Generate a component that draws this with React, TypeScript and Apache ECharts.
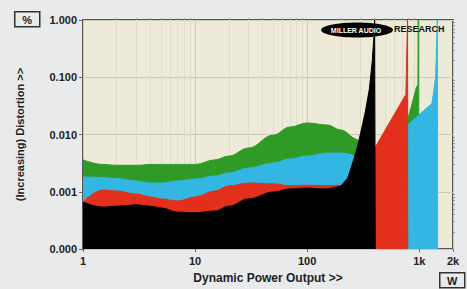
import React, { useEffect, useRef } from "react";
import * as echarts from "echarts";

// Power (W) sample points for the low-power part of the curves
const basePower = [1, 1.5, 2, 3, 4, 5, 7, 10, 15, 20, 30, 50, 70, 100, 150, 200, 250];

// Distortion (%) per trace at basePower
const greenBase = [0.0036, 0.003, 0.0029, 0.0029, 0.003, 0.003, 0.003, 0.003, 0.0036, 0.0042, 0.0058, 0.0098, 0.0135, 0.0159, 0.0147, 0.012, 0.009];
const blueBase = [0.00181, 0.00178, 0.0017, 0.00154, 0.00142, 0.00142, 0.00154, 0.00167, 0.00188, 0.00213, 0.0026, 0.00318, 0.00373, 0.0042, 0.00475, 0.00475, 0.0044];
const redBase = [0.00066, 0.00107, 0.00103, 0.00091, 0.00081, 0.00075, 0.00069, 0.00081, 0.00103, 0.00126, 0.00142, 0.00137, 0.00128, 0.0013, 0.00128, 0.0013, 0.0013];
const blackBase = [0.00066, 0.00054, 0.00056, 0.00059, 0.00056, 0.00052, 0.00044, 0.00043, 0.00046, 0.00056, 0.00075, 0.00099, 0.00112, 0.00116, 0.00112, 0.00125];

// High-power tails (clipping spikes), overlapping the end of each body
const greenTailW = [200, 250, 300, 350, 400, 787, 940, 975, 980, 985];
const greenTail = [0.012, 0.009, 0.0075, 0.006, 0.0045, 0.0178, 0.065, 0.075, 1.0, 0.0001];
const blueTailW = [200, 250, 300, 400, 787, 1300, 1400, 1450, 1460];
const blueTail = [0.00475, 0.0044, 0.004, 0.004, 0.0147, 0.035, 0.1, 1.0, 0.0001];
const redTailW = [200, 250, 300, 350, 405, 760, 785, 790];
const redTail = [0.0013, 0.0013, 0.002, 0.004, 0.006, 0.05, 1.0, 0.0001];
const blackTailW = [150, 200, 230, 260, 280, 300, 330, 360, 380, 395, 400, 405];
const blackTail = [0.00112, 0.00125, 0.00174, 0.0036, 0.006, 0.0106, 0.0247, 0.065, 0.185, 0.55, 1.0, 0.0001];

// Axis ticks
const xMajorTicks = [1, 10, 100, 1000, 2000];
const xMinorTicks = [2, 3, 4, 5, 6, 7, 8, 9, 20, 30, 40, 50, 60, 70, 80, 90, 200, 300, 400, 500, 600, 700, 800, 900];
const yMajorTicks = [0.0001, 0.001, 0.01, 0.1, 1];
const yMinorTicks = [
  0.0002, 0.0003, 0.0004, 0.0005, 0.0006, 0.0007, 0.0008, 0.0009,
  0.002, 0.003, 0.004, 0.005, 0.006, 0.007, 0.008, 0.009,
  0.02, 0.03, 0.04, 0.05, 0.06, 0.07, 0.08, 0.09,
  0.2, 0.3, 0.4, 0.5, 0.6, 0.7, 0.8, 0.9,
];

const COLORS = { green: "#2f9b26", blue: "#33b6e2", red: "#e2301c", black: "#000000" };
const FONT = "Liberation Sans, Arial, sans-serif";

function pairs(xs: number[], ys: number[]) {
  return xs.map((x, i) => [x, ys[i]] as [number, number]);
}

export default function App() {
  const ref = useRef<HTMLDivElement>(null);
  useEffect(() => {
    if (!ref.current) return;
    const chart = echarts.init(ref.current, undefined, { renderer: "svg" });
    const mk = (name: string, color: string, data: [number, number][], z: number, smooth: boolean) => ({
      name,
      type: "line",
      data,
      xAxisIndex: 0,
      yAxisIndex: 0,
      symbol: "none",
      smooth: smooth ? 0.4 : false,
      smoothMonotone: smooth ? "x" : undefined,
      z,
      lineStyle: { color, width: 1 },
      areaStyle: { color, opacity: 1, origin: "start" },
    });
    chart.setOption({
      animation: false,
      backgroundColor: "#e9eaec",
      grid: {
        left: 83,
        top: 20,
        right: 14,
        bottom: 40,
        show: true,
        backgroundColor: "#eeead8",
        borderColor: "#555555",
        borderWidth: 2,
      },
      xAxis: [
        {
          type: "log",
          logBase: 10,
          min: 1,
          max: 2000,
          name: "Dynamic Power Output >>",
          nameLocation: "middle",
          nameGap: 23,
          nameTextStyle: { fontFamily: FONT, fontWeight: "bold", fontSize: 12, color: "#222" },
          axisLine: { show: false },
          axisTick: { show: true, length: 3, lineStyle: { color: "#666" }, customValues: xMajorTicks },
          axisLabel: {
            customValues: xMajorTicks,
            formatter: (v: number) => (v >= 1000 ? v / 1000 + "k" : String(v)),
            fontFamily: FONT,
            fontWeight: "bold",
            fontSize: 11,
            color: "#222",
            margin: 6,
          },
          splitLine: { show: true, lineStyle: { color: "#cdc9b4", width: 1 } },
        },
        {
          type: "log",
          logBase: 10,
          min: 1,
          max: 2000,
          axisLine: { show: false },
          axisTick: { show: true, length: 2, lineStyle: { color: "#999" }, customValues: xMinorTicks },
          axisLabel: { show: false },
          splitLine: { show: true, lineStyle: { color: "#e0dcca", width: 1 } },
        },
      ],
      yAxis: [
        {
          type: "log",
          logBase: 10,
          min: 0.0001,
          max: 1,
          name: "(Increasing) Distortion >>",
          nameLocation: "middle",
          nameGap: 58,
          nameTextStyle: { fontFamily: FONT, fontWeight: "bold", fontSize: 11, color: "#222" },
          axisLine: { show: false },
          axisTick: { show: true, length: 4, lineStyle: { color: "#666" }, customValues: yMajorTicks },
          axisLabel: {
            customValues: yMajorTicks,
            formatter: (v: number) => v.toFixed(3),
            fontFamily: FONT,
            fontWeight: "bold",
            fontSize: 11,
            color: "#222",
            margin: 6,
          },
          splitLine: { show: true, lineStyle: { color: "#cdc9b4", width: 1 } },
        },
        {
          type: "log",
          logBase: 10,
          min: 0.0001,
          max: 1,
          axisLine: { show: false },
          axisTick: { show: true, length: 2, lineStyle: { color: "#999" }, customValues: yMinorTicks },
          axisLabel: { show: false },
          splitLine: { show: false },
        },
      ],
      series: [
        mk("green", COLORS.green, pairs(basePower, greenBase), 2, true),
        mk("green-tail", COLORS.green, pairs(greenTailW, greenTail), 2, false),
        mk("blue", COLORS.blue, pairs(basePower, blueBase), 3, true),
        mk("blue-tail", COLORS.blue, pairs(blueTailW, blueTail), 3, false),
        mk("red", COLORS.red, pairs(basePower, redBase), 4, true),
        mk("red-tail", COLORS.red, pairs(redTailW, redTail), 4, false),
        mk("black", COLORS.black, pairs(basePower.slice(0, blackBase.length), blackBase), 5, true),
        mk("black-tail", COLORS.black, pairs(blackTailW, blackTail), 5, false),
      ],
      graphic: [
        {
          type: "group",
          left: 14,
          top: 11,
          children: [
            { type: "rect", shape: { x: 0, y: 0, width: 25, height: 15 }, style: { fill: "#e9eaec", stroke: "#333", lineWidth: 1.5 } },
            { type: "text", x: 12.5, y: 8, style: { text: "%", fill: "#222", font: "bold 11px " + FONT, align: "center", verticalAlign: "middle" } },
          ],
        },
        {
          type: "group",
          left: 439,
          top: 272,
          children: [
            { type: "rect", shape: { x: 0, y: 0, width: 25, height: 15 }, style: { fill: "#e9eaec", stroke: "#333", lineWidth: 1.5 } },
            { type: "text", x: 12.5, y: 8, style: { text: "W", fill: "#222", font: "bold 11px " + FONT, align: "center", verticalAlign: "middle" } },
          ],
        },
        {
          type: "group",
          z: 100,
          children: [
            { type: "ellipse", shape: { cx: 357, cy: 30, rx: 36, ry: 7.5 }, style: { fill: "#000" }, z: 100 },
            { type: "text", x: 356, y: 30, z: 101, style: { text: "MILLER AUDIO", fill: "#fff", font: "bold 7px " + FONT, align: "center", verticalAlign: "middle" } },
            { type: "text", x: 394, y: 29, z: 101, style: { text: "RESEARCH", fill: "#111", font: "bold 9px " + FONT, align: "left", verticalAlign: "middle" } },
          ],
        },
      ],
    });
    return () => chart.dispose();
  }, []);
  return (
    <div
      ref={ref}
      style={{ position: "fixed", left: 0, top: 0, width: 467, height: 289 }}
    />
  );
}
